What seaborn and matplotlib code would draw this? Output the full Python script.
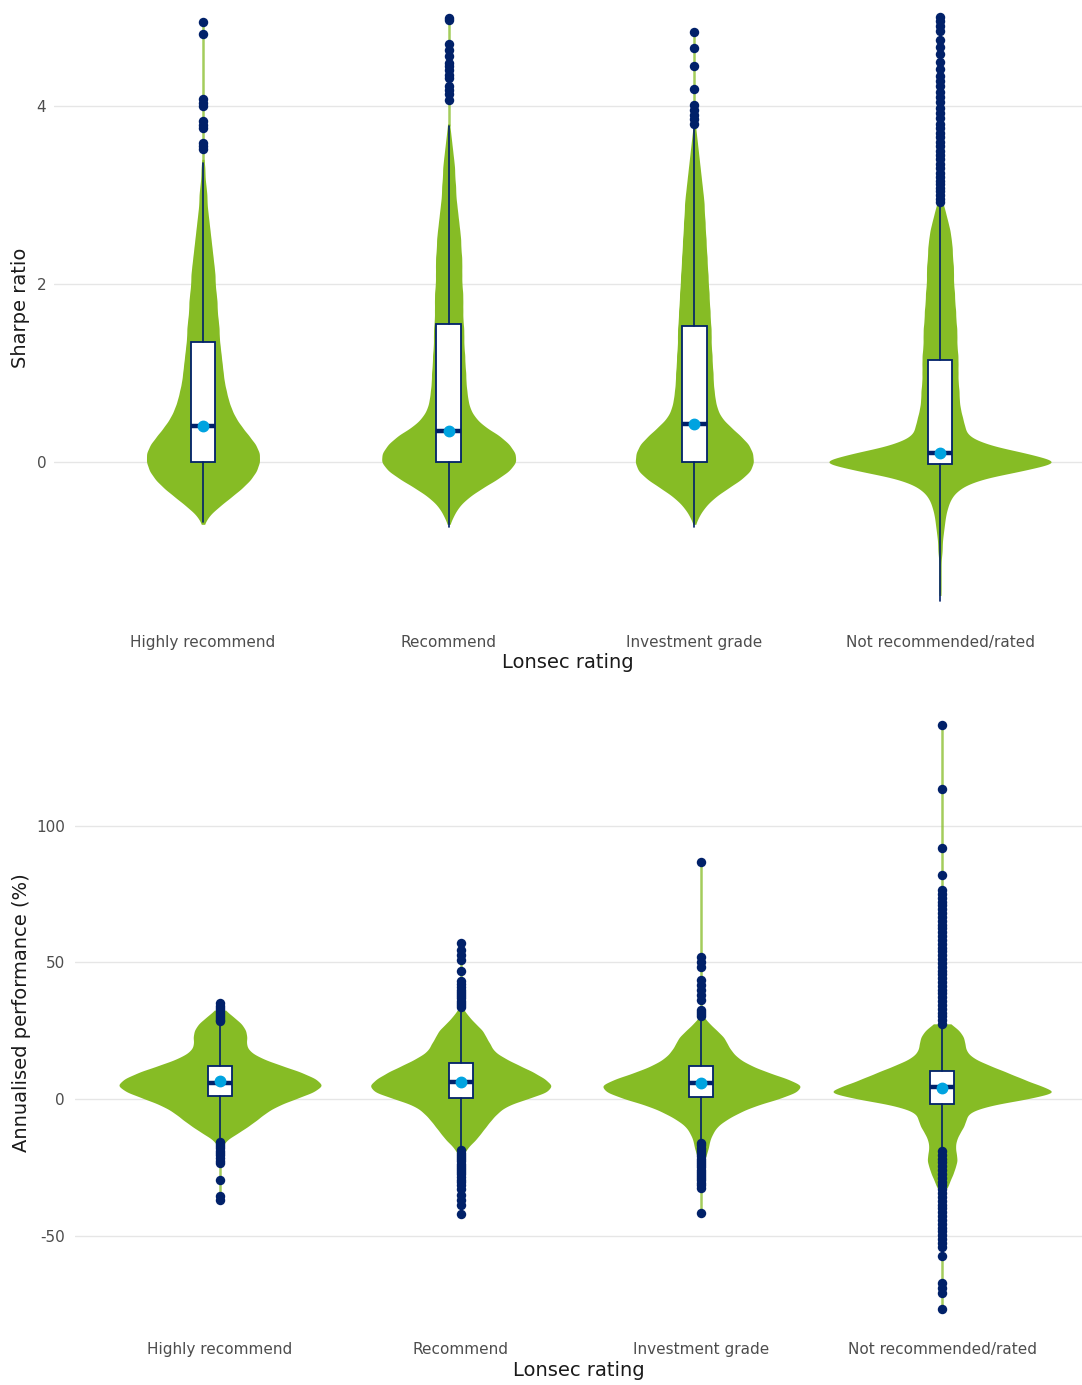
import numpy as np
import pandas as pd
import matplotlib
matplotlib.use("Agg")
import matplotlib.pyplot as plt
import seaborn as sns

GREEN = "#86BC25"
NAVY = "#012169"
BLUE = "#00A3E0"

categories = ["Highly recommend", "Recommend", "Investment grade", "Not recommended/rated"]

# ---- Sharpe ratio: violin profiles (funds per 0.1 bin)
sharpe_step = 0.1
sharpe_start = [-0.7, -0.7, -0.7, -1.5]
sharpe_hr = [1, 6, 16, 27, 38, 47, 53, 56, 56, 52, 45, 38, 32, 28, 25, 23, 21, 20, 19, 18, 17,
             16, 16, 15, 14, 14, 13, 12, 12, 11, 10, 9, 8, 7, 6, 5, 4, 4, 3, 2, 2, 1]
sharpe_rec = [1, 5, 10, 19, 32, 47, 60, 67, 66, 60, 50, 35, 26, 21, 19, 18, 17, 17, 16, 16, 15,
              15, 15, 14, 14, 14, 14, 13, 13, 13, 13, 12, 12, 11, 10, 9, 8, 7, 7, 6, 6, 5, 4, 3, 2, 1]
sharpe_ig = [1, 5, 11, 20, 33, 47, 57, 60, 59, 55, 46, 36, 27, 23, 21, 20, 19, 19, 18, 18, 17,
             17, 17, 16, 16, 15, 15, 14, 14, 13, 13, 12, 12, 11, 11, 10, 10, 9, 8, 7, 6, 5, 4, 3, 2, 1]
sharpe_nr = [1, 1, 1, 1, 1, 2, 2, 3, 4, 5, 7, 10, 17, 33, 72, 111, 76, 40, 24, 22, 20, 18, 17, 17,
             16, 16, 16, 16, 15, 15, 15, 14, 14, 13, 13, 12, 12, 12, 11, 11, 10, 9, 7, 5, 3]

# box summaries
sharpe_whislo = [-0.67, -0.73, -0.73, -1.56]
sharpe_q1 = [0.0, 0.0, 0.0, -0.02]
sharpe_med = [0.40, 0.35, 0.43, 0.10]
sharpe_q3 = [1.35, 1.55, 1.53, 1.15]
sharpe_whishi = [3.36, 3.78, 3.76, 2.90]
sharpe_mean = [0.40, 0.35, 0.43, 0.10]

# outliers
sharpe_out_hr = [4.94, 4.81, 4.08, 4.03, 4.00, 3.83, 3.79, 3.75, 3.58, 3.55, 3.52]
sharpe_out_rec = [4.99, 4.97, 4.70, 4.63, 4.56, 4.48, 4.45, 4.40, 4.35, 4.31, 4.22, 4.18, 4.13, 4.07]
sharpe_out_ig = [4.83, 4.65, 4.45, 4.19, 4.01, 3.96, 3.90, 3.85, 3.80]
sharpe_out_nr = [2.92, 2.96, 3.00, 3.04, 3.08, 3.12, 3.16, 3.20, 3.25, 3.30, 3.35, 3.40, 3.45,
                 3.50, 3.55, 3.60, 3.65, 3.70, 3.75, 3.80, 3.86, 3.92, 3.98, 4.04, 4.10, 4.16,
                 4.22, 4.28, 4.34, 4.42, 4.50, 4.58, 4.66, 4.74, 4.84, 4.90, 4.96, 5.00]

# ---- Annualised performance (%): violin profiles (funds per 2.5 bin)
perf_step = 2.5
perf_start = [-17.5, -22.5, -25.0, -32.5]
perf_hr = [2, 6, 17, 27, 36, 44, 55, 72, 90, 100, 92, 77, 57, 39, 28, 25, 26, 25, 21, 13, 5]
perf_rec = [1, 3, 7, 14, 19, 24, 29, 35, 43, 62, 82, 87, 79, 68, 54, 41, 31, 28, 24, 21, 14, 8, 3]
perf_ig = [2, 3, 5, 7, 8, 11, 15, 24, 36, 51, 74, 92, 98, 82, 62, 46, 35, 29, 25, 22, 15, 8, 2]
perf_nr = [5, 7, 10, 12, 14, 13, 12, 13, 16, 20, 22, 24, 41, 78, 108, 89, 73, 58, 42, 28, 22,
           21, 20, 16, 8]

perf_whislo = [-15.5, -18.5, -16.0, -18.7]
perf_q1 = [1.2, 0.2, 0.85, -1.8]
perf_med = [6.0, 6.1, 6.0, 4.3]
perf_q3 = [12.1, 13.3, 12.2, 10.2]
perf_whishi = [28.0, 33.0, 29.5, 27.0]
perf_mean = [6.6, 6.1, 5.9, 4.0]

perf_out_hr = [35.0, 34.2, 33.4, 32.6, 31.8, 31.0, 30.3, 29.6, 29.0, 28.5,
               -15.8, -16.5, -17.3, -18.1, -18.9, -19.7, -20.5, -21.5, -22.5, -23.5,
               -29.6, -35.5, -37.0]
perf_out_rec = [57.0, 54.5, 52.7, 51.0, 47.0, 43.0, 42.0, 41.0, 40.0, 39.2, 38.4, 37.6, 36.8,
                36.0, 35.2, 34.4, 33.6,
                -18.8, -19.6, -20.4, -21.2, -22.0, -22.8, -23.6, -24.4, -25.2, -26.0, -26.8,
                -27.6, -28.5, -29.5, -30.5, -31.5, -33.0, -35.0, -37.0, -38.8, -42.0]
perf_out_ig = [86.7, 52.0, 50.2, 48.3, 43.5, 41.7, 39.9, 38.0, 36.2, 32.6, 31.8, 31.0, 30.3,
               -16.2, -17.0, -17.8, -18.6, -19.4, -20.2, -21.0, -21.8, -22.6, -23.4, -24.2,
               -25.0, -25.8, -26.6, -27.4, -28.2, -29.0, -29.8, -30.6, -31.4, -32.5, -41.7]
perf_out_nr = [136.8, 113.4, 91.8, 82.0, 76.4, 75.0, 73.6, 72.2, 70.8, 69.4, 68.0, 66.6, 65.2,
               63.8, 62.4, 61.0, 59.6, 58.2, 56.8, 55.4, 54.0, 52.6, 51.2, 49.8, 48.4, 47.0,
               45.6, 44.2, 42.8, 41.4, 40.0, 38.6, 37.2, 35.8, 34.4, 33.0, 31.6, 30.2, 28.8, 27.5,
               -19.0, -20.4, -21.8, -23.2, -24.6, -26.0, -27.4, -28.8, -30.2, -31.6, -33.0,
               -34.4, -35.8, -37.2, -38.6, -40.0, -41.4, -42.8, -44.2, -45.6, -47.0, -48.4,
               -49.8, -51.2, -52.6, -54.0, -57.4, -67.3, -69.3, -71.0, -76.7]

# styling: max violin width per category (fraction of category spacing)
sharpe_widths = [0.46, 0.545, 0.48, 0.904]
perf_widths = [0.839, 0.748, 0.818, 0.906]


def expand(start, step, counts):
    levels = start + step * np.arange(len(counts))
    return np.repeat(levels, counts)


def draw_panel(ax, profiles, starts, step, widths, stats, outliers, ylabel, yticks):
    whislo, q1, med, q3, whishi, mean = stats
    for i, cat in enumerate(categories):
        vals = expand(starts[i], step, profiles[i])
        bw = 0.6 * step / np.std(vals, ddof=1)
        sns.violinplot(x=[cat] * len(vals), y=vals, order=categories, color=GREEN,
                       saturation=1, inner=None, linewidth=0, cut=0, density_norm="width",
                       width=widths[i], bw_method=bw, gridsize=1000, ax=ax)

    # thin tail of the violin running through the outliers
    for i in range(len(categories)):
        hi = max(outliers[i])
        lo = min(outliers[i])
        if hi > whishi[i]:
            ax.vlines(i, whishi[i], hi, color=GREEN, lw=1.8, alpha=0.75, zorder=1.5)
        if lo < whislo[i]:
            ax.vlines(i, lo, whislo[i], color=GREEN, lw=1.8, alpha=0.75, zorder=1.5)

    bstats = [dict(whislo=whislo[i], q1=q1[i], med=med[i], q3=q3[i], whishi=whishi[i],
                   mean=mean[i], fliers=[]) for i in range(len(categories))]
    ax.bxp(bstats, positions=range(len(categories)), widths=0.1, patch_artist=True,
           showmeans=True, showcaps=False, showfliers=False, manage_ticks=False, zorder=3,
           boxprops=dict(facecolor="white", edgecolor=NAVY, linewidth=1.3),
           whiskerprops=dict(color=NAVY, linewidth=1.2),
           medianprops=dict(color=NAVY, linewidth=3.2, solid_capstyle="butt"),
           meanprops=dict(marker="o", markerfacecolor=BLUE, markeredgecolor=BLUE, markersize=7.5))

    out = pd.DataFrame({
        "rating": [c for c, o in zip(categories, outliers) for _ in o],
        "value": [v for o in outliers for v in o],
    })
    sns.stripplot(data=out, x="rating", y="value", order=categories, jitter=False,
                  color=NAVY, size=6.8, linewidth=0, ax=ax, zorder=4)

    ax.set_yticks(yticks)
    ax.grid(axis="y", color="#E6E6E6", linewidth=1)
    ax.grid(axis="x", visible=False)
    ax.set_axisbelow(True)
    for s in ax.spines.values():
        s.set_visible(False)
    ax.set_ylabel(ylabel, fontsize=14, color="#1A1A1A")
    ax.set_xlabel("Lonsec rating", fontsize=14, color="#1A1A1A")


sns.set_style("white")
plt.rcParams["font.family"] = ["DejaVu Sans"]
plt.rcParams["axes.unicode_minus"] = False

fig = plt.figure(figsize=(10.82, 13.85), dpi=100)
ax1 = fig.add_axes([54 / 1082, 1 - 615 / 1385, 1028 / 1082, 615 / 1385])
ax2 = fig.add_axes([75 / 1082, 1 - 1320 / 1385, 1007 / 1082, 615 / 1385])

draw_panel(ax1, [sharpe_hr, sharpe_rec, sharpe_ig, sharpe_nr], sharpe_start, sharpe_step,
           sharpe_widths,
           (sharpe_whislo, sharpe_q1, sharpe_med, sharpe_q3, sharpe_whishi, sharpe_mean),
           [sharpe_out_hr, sharpe_out_rec, sharpe_out_ig, sharpe_out_nr],
           "Sharpe ratio", [0, 2, 4])
draw_panel(ax2, [perf_hr, perf_rec, perf_ig, perf_nr], perf_start, perf_step, perf_widths,
           (perf_whislo, perf_q1, perf_med, perf_q3, perf_whishi, perf_mean),
           [perf_out_hr, perf_out_rec, perf_out_ig, perf_out_nr],
           "Annualised performance (%)", [-50, 0, 50, 100])

ax1.set_xlim(-0.6064, 3.578)
ax1.set_ylim(-1.719, 5.191)
ax2.set_xlim(-0.6024, 3.581)
ax2.set_ylim(-80.83, 144.11)

ax1.tick_params(axis="x", length=0, pad=14.4, labelsize=11, labelcolor="#4D4D4D")
ax1.tick_params(axis="y", length=0, pad=5.5, labelsize=11, labelcolor="#4D4D4D")
ax2.tick_params(axis="x", length=0, pad=15.8, labelsize=11, labelcolor="#4D4D4D")
ax2.tick_params(axis="y", length=0, pad=7.2, labelsize=11, labelcolor="#4D4D4D")

ax1.yaxis.set_label_coords(-0.0233, 0.5)
ax1.xaxis.set_label_coords(0.5, -0.0623)
ax2.yaxis.set_label_coords(-0.0437, 0.5)
ax2.xaxis.set_label_coords(0.5, -0.066)

fig.savefig("out.png", dpi=100)
plt.close(fig)
